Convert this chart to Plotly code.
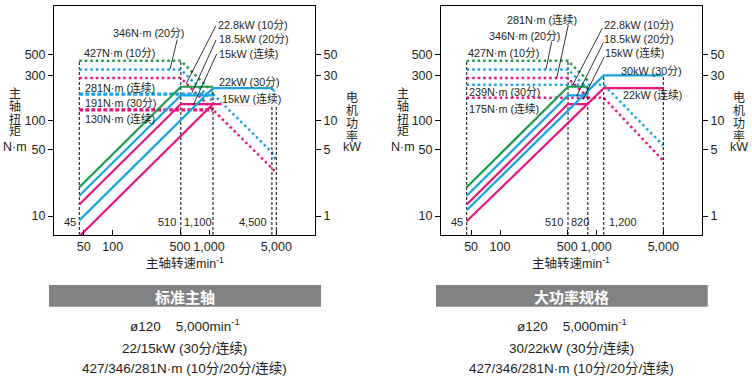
import plotly.graph_objects as go

W, H = 752, 389
FONT = "Liberation Sans, Arial, Noto Sans CJK SC, sans-serif"
CJK = "Noto Sans CJK SC, sans-serif"
TXT = "#231f20"
GREEN = "#1e9a4a"
CYAN = "#1ca3e3"
MAGENTA = "#e5177f"

# ---------------- data ----------------
x_tickvals = [50, 100, 500, 1000, 5000]
x_ticktext = ["50", "100", "500", "1,000", "5,000"]
torque_tickvals = [10, 50, 100, 300, 500]
power_tickvals = [1, 5, 10, 30, 50]

# 标准主轴 (standard spindle) -- power kW
std_p10_rpm, std_p10_kw = [45, 510, 1100], [2.0, 22.8, 22.8]
std_p20_rpm, std_p20_kw = [45, 510, 1100], [1.63, 18.5, 18.5]
std_pc_rpm, std_pc_kw = [45, 510, 5000], [1.32, 15, 15]
std_p30_rpm, std_p30_kw = [45, 1100, 4500, 5000], [0.9, 22, 22, 19]
std_pch_rpm, std_pch_kw = [45, 1100], [0.61, 15]
# torque N·m
std_t10_rpm, std_t10_nm = [45, 510, 1100], [427, 427, 198]
std_t20_rpm, std_t20_nm = [45, 510, 1100], [346, 346, 160]
std_tc_rpm, std_tc_nm = [45, 510, 5000], [281, 281, 28.6]
std_t30f_rpm, std_t30f_nm = [45, 1100], [191, 191]
std_t30d_rpm, std_t30d_nm = [1100, 4500, 5000], [191, 46.7, 37.8]
std_tch_rpm, std_tch_nm = [45, 1100], [130, 130]
# speed markers (rpm, top value, axis of top value)
std_mark_rpm = [45, 510, 1100, 4500, 5000]
std_mark_top = [427, 427, 22.8, 22, 19]
std_mark_axis = ["T", "T", "P", "P", "P"]

# 大功率规格 (high power)
hp_p10_rpm, hp_p10_kw = [45, 510, 820], [2.0, 22.8, 22.8]
hp_p20_rpm, hp_p20_kw = [45, 510, 820], [1.63, 18.5, 18.5]
hp_pc_rpm, hp_pc_kw = [45, 510, 820], [1.32, 15, 15]
hp_p30_rpm, hp_p30_kw = [45, 1200, 5000], [1.15, 30, 30]
hp_pch_rpm, hp_pch_kw = [45, 1200, 5000], [0.88, 22, 22]
hp_t10_rpm, hp_t10_nm = [45, 510, 820], [427, 427, 265]
hp_t20_rpm, hp_t20_nm = [45, 510, 820], [346, 346, 215]
hp_tc_rpm, hp_tc_nm = [45, 510, 820], [281, 281, 175]
hp_t30_rpm, hp_t30_nm = [45, 1200, 5000], [239, 239, 55]
hp_tch_rpm, hp_tch_nm = [45, 1200, 5000], [175, 175, 38]
hp_mark_rpm = [45, 510, 820, 1200, 5000]
hp_mark_top = [427, 427, 22.8, 30, 30]
hp_mark_axis = ["T", "T", "P", "P", "P"]

# ---------------- layout helpers ----------------
def px(x):
    return x / W

def py(y):
    return 1 - y / H

Y_RANGE = [0.8004, 3.2059]
P_RANGE = [Y_RANGE[0] - 1, Y_RANGE[1] - 1]
Y_DOM = [py(235), py(6)]

fig = go.Figure()

SOLID = dict(width=2.2)
DOT = dict(width=2.5, dash="2.5px,3px")
THICK = dict(width=3.2, dash="4px,2px")
VDASH = dict(width=1, dash="3px,2px")


def add(x, y, color, style, xa, ya):
    fig.add_trace(go.Scatter(x=x, y=y, mode="lines", line=dict(color=color, **style),
                             xaxis=xa, yaxis=ya, showlegend=False, hoverinfo="skip"))


def markers(rpms, tops, axes, xa, ya_t, ya_p):
    for r, t, a in zip(rpms, tops, axes):
        if a == "T":
            add([r, r], [10 ** Y_RANGE[0], t], "black", VDASH, xa, ya_t)
        else:
            add([r, r], [10 ** P_RANGE[0], t], "black", VDASH, xa, ya_p)


# left chart
markers(std_mark_rpm, std_mark_top, std_mark_axis, "x", "y", "y2")
add(std_t10_rpm, std_t10_nm, GREEN, DOT, "x", "y")
add(std_t20_rpm, std_t20_nm, CYAN, DOT, "x", "y")
add(std_tc_rpm, std_tc_nm, MAGENTA, DOT, "x", "y")
add(std_t30d_rpm, std_t30d_nm, CYAN, DOT, "x", "y")
add(std_t30f_rpm, std_t30f_nm, CYAN, THICK, "x", "y")
add(std_tch_rpm, std_tch_nm, MAGENTA, THICK, "x", "y")
add(std_p10_rpm, std_p10_kw, GREEN, SOLID, "x", "y2")
add(std_p20_rpm, std_p20_kw, CYAN, SOLID, "x", "y2")
add(std_pc_rpm, std_pc_kw, MAGENTA, SOLID, "x", "y2")
add(std_p30_rpm, std_p30_kw, CYAN, SOLID, "x", "y2")
add(std_pch_rpm, std_pch_kw, MAGENTA, SOLID, "x", "y2")

# right chart
markers(hp_mark_rpm, hp_mark_top, hp_mark_axis, "x2", "y3", "y4")
add(hp_t10_rpm, hp_t10_nm, GREEN, DOT, "x2", "y3")
add(hp_t20_rpm, hp_t20_nm, CYAN, DOT, "x2", "y3")
add(hp_tc_rpm, hp_tc_nm, MAGENTA, DOT, "x2", "y3")
add(hp_t30_rpm, hp_t30_nm, CYAN, DOT, "x2", "y3")
add(hp_tch_rpm, hp_tch_nm, MAGENTA, DOT, "x2", "y3")
add(hp_p10_rpm, hp_p10_kw, GREEN, SOLID, "x2", "y4")
add(hp_p20_rpm, hp_p20_kw, CYAN, SOLID, "x2", "y4")
add(hp_pc_rpm, hp_pc_kw, MAGENTA, SOLID, "x2", "y4")
add(hp_p30_rpm, hp_p30_kw, CYAN, SOLID, "x2", "y4")
add(hp_pch_rpm, hp_pch_kw, MAGENTA, SOLID, "x2", "y4")

AX = dict(showline=True, linecolor="black", linewidth=1, mirror=True, showgrid=False,
          zeroline=False, tickcolor="black", ticklen=5, tickwidth=1,
          tickfont=dict(size=12.5, color=TXT, family=FONT))

xcommon = dict(type="log", tickvals=x_tickvals, ticktext=x_ticktext, ticks="inside", **AX)
ycommon = dict(type="log", range=Y_RANGE, domain=Y_DOM, tickvals=torque_tickvals,
               ticktext=[str(v) for v in torque_tickvals], ticks="outside", **AX)
pcommon = dict(type="log", range=P_RANGE, tickvals=power_tickvals,
               ticktext=[str(v) for v in power_tickvals], ticks="outside", side="right", **AX)

fig.update_layout(
    width=W, height=H, margin=dict(l=0, r=0, t=0, b=0, autoexpand=False),
    paper_bgcolor="white", plot_bgcolor="white", showlegend=False,
    font=dict(family=FONT, size=12.5, color=TXT),
    xaxis=dict(domain=[px(54), px(315)], range=[1.3905, 4.1007], anchor="y", **xcommon),
    yaxis=dict(anchor="x", **ycommon),
    yaxis2=dict(anchor="x", overlaying="y", **pcommon),
    xaxis2=dict(domain=[px(441), px(702)], range=[1.3858, 4.1017], anchor="y3", **xcommon),
    yaxis3=dict(anchor="x2", **ycommon),
    yaxis4=dict(anchor="x2", overlaying="y3", **pcommon),
)

ann = []
shapes = []


def text(x, y, s, size=10.8, anchor="left", bg=None, color=TXT, bold=False, family=FONT):
    d = dict(x=px(x), y=py(y), xref="paper", yref="paper", text=("<b>%s</b>" % s) if bold else s,
             showarrow=False, xanchor=anchor, yanchor="middle",
             font=dict(size=size, color=color, family=family), borderpad=0)
    if bg:
        d["bgcolor"] = bg
    ann.append(d)


def leader(x0, y0, x1, y1):
    shapes.append(dict(type="line", xref="paper", yref="paper", x0=px(x0), y0=py(y0),
                       x1=px(x1), y1=py(y1), line=dict(color="black", width=0.8)))


# ---- left chart labels ----
text(111.7, 33.3, "346N·m (20分)")
text(82.7, 53.3, "427N·m (10分)")
text(216.7, 25, "22.8kW (10分)")
text(217.5, 39.3, "18.5kW (20分)")
text(218, 53.3, "15kW (连续)")
text(218.3, 81.7, "22kW (30分)")
text(221.0, 98.3, "15kW (连续)", bg="white")
text(84, 87.3, "281N·m (连续)")
text(84, 103.3, "191N·m (30分)")
text(84, 118.3, "130N·m (连续)")
leader(177.3, 39.3, 170, 69.3)
leader(215.7, 26, 186, 84)
leader(216, 40, 191.7, 93.3)
leader(216.7, 54, 193.3, 105)
text(77, 221.7, "45", size=11, anchor="right")
text(177, 221.7, "510", size=11, anchor="right")
text(183, 221.7, "1,100", size=11)
text(268.3, 221.7, "4,500", size=11, anchor="right")

# ---- right chart labels ----
text(506, 20, "281N·m (连续)")
text(487.7, 36, "346N·m (20分)")
text(466.7, 53.3, "427N·m (10分)")
text(603.3, 25, "22.8kW (10分)")
text(603.3, 39.3, "18.5kW (20分)")
text(604.3, 52.7, "15kW (连续)")
text(620, 71, "30kW (30分)")
text(621.7, 95, "22kW (连续)")
text(468.3, 91.7, "239N·m (30分)")
text(468.3, 108.3, "175N·m (连续)")
leader(568.3, 25, 556.7, 78.3)
leader(551.7, 41.7, 546, 69.3)
leader(602.3, 28.3, 572.7, 85)
leader(603.3, 42.7, 576.7, 96)
leader(604.3, 56.7, 582.7, 100)
text(464.3, 221.7, "45", size=11, anchor="right")
text(564.3, 221.7, "510", size=11, anchor="right")
text(569.5, 221.7, "820", size=11)
text(607.7, 221.7, "1,200", size=11)

# ---- axis titles ----
for cx in (15, 403):
    for ch, yy in zip("主轴扭矩", (92.7, 105, 118, 130.7)):
        text(cx, yy, ch, size=12, anchor="center", family=CJK)
    text(cx, 146.7, "N·m", size=12.5, anchor="center")
for cx in (351.7, 739.3):
    for ch, yy in zip("电机功率", (96.7, 109.5, 122.5, 135)):
        text(cx, yy, ch, size=12, anchor="center", family=CJK)
    text(cx, 147, "kW", size=12.5, anchor="center")
for cx in (185, 571):
    text(cx, 263.3, "主轴转速min<sup>-1</sup>", size=12.5, anchor="center")

# ---- bottom panels ----
for (x0, x1, title, cx, l2) in [
    (49, 321, "标准主轴", 184.5, "22/15kW (30分/连续)"),
    (436, 707.7, "大功率规格", 571.7, "30/22kW (30分/连续)"),
]:
    shapes.append(dict(type="rect", xref="paper", yref="paper", x0=px(x0), x1=px(x1),
                       y0=py(306.7), y1=py(285), fillcolor="#808284", line=dict(width=0)))
    text((x0 + x1) / 2, 296, title, size=15, anchor="center", color="white", bold=True, family=CJK)
    text(cx, 324.7, "ø120\u00a0\u00a0\u00a0\u00a05,000min<sup>-1</sup>", size=13.5, anchor="center")
    text(cx, 348.5, l2, size=13.5, anchor="center")
    text(cx, 368.7, "427/346/281N·m (10分/20分/连续)", size=13.5, anchor="center")

fig.update_layout(annotations=ann, shapes=shapes)
fig.write_html("out.html", config={"displayModeBar": False},
               post_script="document.body.style.margin='0';document.body.style.overflow='hidden';")
